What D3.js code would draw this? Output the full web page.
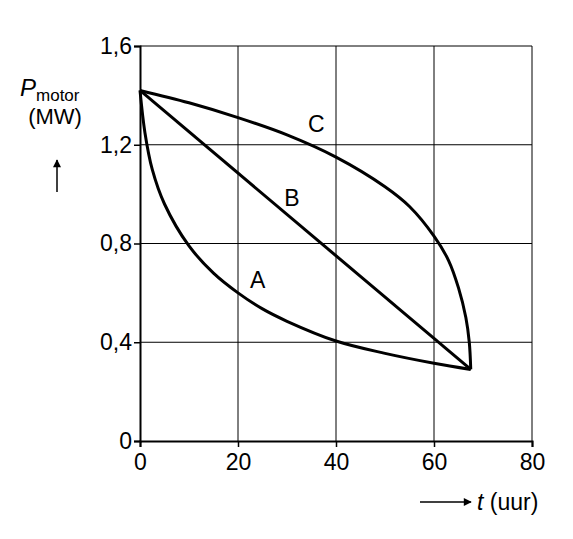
<!DOCTYPE html>
<html><head><meta charset="utf-8">
<script src="https://cdn.jsdelivr.net/npm/d3@7"></script>
<style>body{margin:0;background:#fff}text{font-family:"Liberation Sans Narrow","Liberation Sans",Arial,sans-serif;}</style>
</head><body>
<svg id="chart" width="573" height="539"></svg>
<script>
var xTicks = [0, 20, 40, 60, 80];
var yTicks = [0, 0.4, 0.8, 1.2, 1.6];
var curveA = [[0,1.42],[1,1.25],[2.5,1.1],[5,0.96],[10,0.79],[15,0.68],[20,0.6],[25,0.535],[30,0.485],[40,0.405],[50,0.355],[60,0.315],[67.5,0.29]];
var curveB = [[0,1.42],[67.5,0.29]];
var curveC = [[0,1.42],[10,1.37],[20,1.31],[30,1.24],[40,1.15],[50,1.03],[55,0.95],[60,0.83],[63,0.73],[65,0.62],[66.5,0.5],[67.2,0.4],[67.5,0.29]];
var labels = [{t:"A", x:24, y:0.62}, {t:"B", x:31, y:0.95}, {t:"C", x:36, y:1.25}];

var svg = d3.select('#chart');
var x = d3.scaleLinear().domain([0, 80]).range([140, 532]);
var y = d3.scaleLinear().domain([0, 1.6]).range([441, 46]);

// grid
svg.append('g').selectAll('line').data(xTicks.slice(1)).enter().append('line')
  .attr('x1', x).attr('x2', x).attr('y1', y(0)).attr('y2', y(1.6))
  .attr('stroke', '#000').attr('stroke-width', 1);
svg.append('g').selectAll('line').data(yTicks.slice(1)).enter().append('line')
  .attr('x1', x(0)).attr('x2', x(80)).attr('y1', y).attr('y2', y)
  .attr('stroke', '#000').attr('stroke-width', 1);

// axes
var xAxis = svg.append('g').attr('transform', 'translate(0,' + y(0) + ')')
  .call(d3.axisBottom(x).tickValues(xTicks).tickSize(6).tickFormat(d3.format('d')));
var yAxis = svg.append('g').attr('transform', 'translate(' + x(0) + ',0)')
  .call(d3.axisLeft(y).tickValues(yTicks).tickSize(6).tickFormat(function(d){ return d === 0 ? '0' : d.toFixed(1).replace('.', ','); }));
[xAxis, yAxis].forEach(function(a){
  a.attr('font-family', null).attr('font-size', null);
  a.select('.domain').attr('stroke-width', 2);
  a.selectAll('line').attr('stroke-width', 1.5);
  a.selectAll('text').style('font-size', '23px').style('font-family', '"Liberation Sans Narrow","Liberation Sans",Arial').attr('fill', '#000');
});
xAxis.selectAll('text').attr('dy', '0.85em');
yAxis.selectAll('text').attr('x', -8);

// curves
var line = d3.line().x(function(d){ return x(d[0]); }).y(function(d){ return y(d[1]); }).curve(d3.curveCatmullRom.alpha(0.5));
[curveA, curveB, curveC].forEach(function(c){
  svg.append('path').attr('d', line(c)).attr('fill', 'none').attr('stroke', '#000').attr('stroke-width', 3);
});
svg.selectAll('.lbl').data(labels).enter().append('text')
  .attr('x', function(d){ return x(d.x); }).attr('y', function(d){ return y(d.y); })
  .attr('text-anchor', 'middle').style('font-size', '23px').style('font-family', 'Liberation Sans, Arial').text(function(d){ return d.t; });

// axis titles
var py = svg.append('text').attr('x', 20).attr('y', 96).style('font-size', '24px').style('font-family', 'Liberation Sans, Arial');
py.append('tspan').attr('font-style', 'italic').text('P');
py.append('tspan').style('font-size', '17px').attr('dy', 5).text('motor');
svg.append('text').attr('x', 55).attr('y', 124).attr('text-anchor', 'middle').style('font-size', '22px').style('font-family', 'Liberation Sans, Arial').text('(MW)');

svg.append('defs').append('marker').attr('id', 'ah').attr('viewBox', '0 0 10 10').attr('refX', 9).attr('refY', 5)
  .attr('markerWidth', 12).attr('markerHeight', 8).attr('markerUnits', 'userSpaceOnUse').attr('orient', 'auto')
  .append('path').attr('d', 'M0,0L10,5L0,10z').attr('fill', '#000');
svg.append('line').attr('x1', 57).attr('y1', 192).attr('x2', 57).attr('y2', 160).attr('stroke', '#000').attr('stroke-width', 1.5).attr('marker-end', 'url(#ah)');
svg.append('line').attr('x1', 420).attr('y1', 502).attr('x2', 471).attr('y2', 502).attr('stroke', '#000').attr('stroke-width', 1.5).attr('marker-end', 'url(#ah)');
var tx = svg.append('text').attr('x', 477).attr('y', 510).style('font-size', '23px').style('font-family', 'Liberation Sans, Arial');
tx.append('tspan').attr('font-style', 'italic').text('t');
tx.append('tspan').text(' (uur)');
</script>
</body></html>
